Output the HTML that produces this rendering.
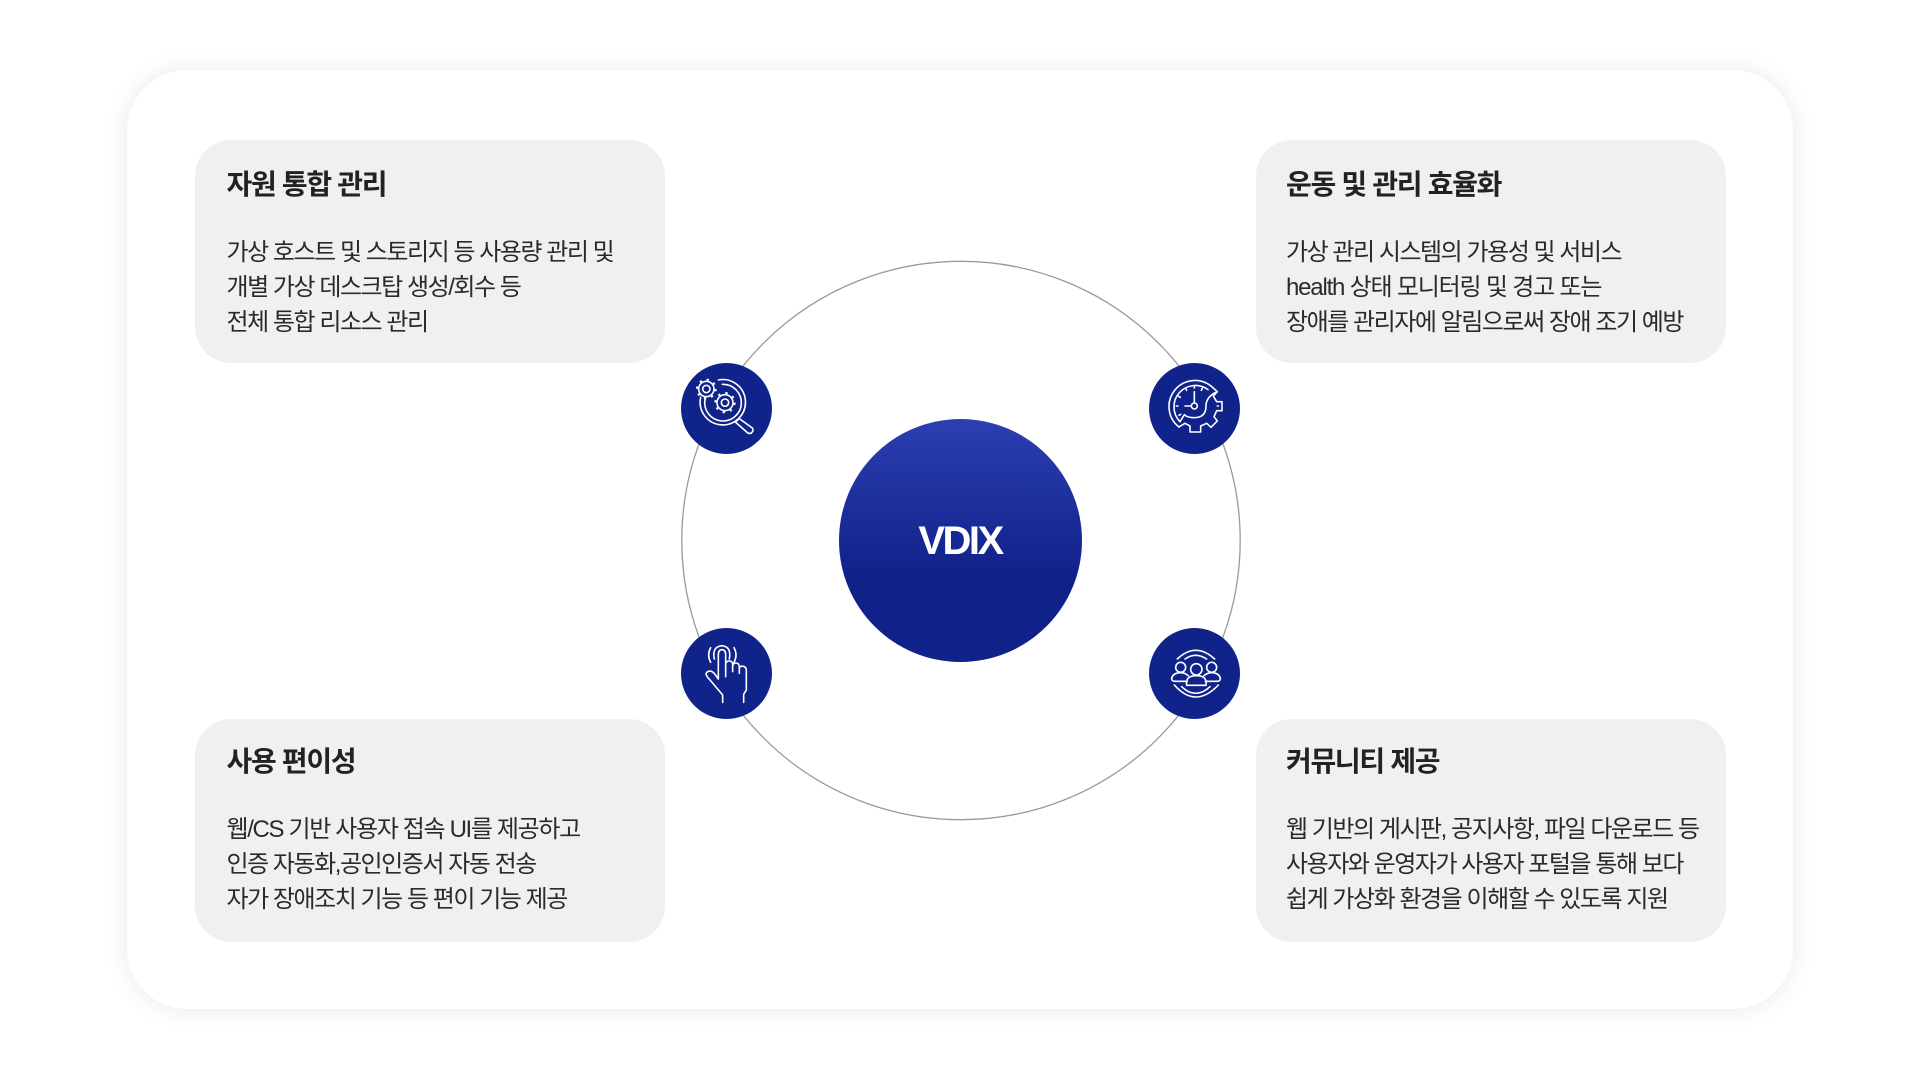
<!DOCTYPE html>
<html lang="ko"><head><meta charset="utf-8"><title>VDIX</title>
<style>
html,body{margin:0;padding:0;background:#fff}
#p{position:relative;width:1920px;height:1080px;overflow:hidden;background:#fff;font-family:"Liberation Sans","Noto Sans CJK KR",sans-serif}
#c{position:absolute;left:127px;top:70px;width:1666px;height:939px;border-radius:60px;background:#fff;box-shadow:0 0 24px rgba(0,0,0,.09)}
.b{position:absolute;width:470px;height:223px;border-radius:36px;background:#f0f0f0}
.t,.l{position:absolute;white-space:nowrap;line-height:40px;height:40px}
.t{font-size:28px;font-weight:700;color:#222;letter-spacing:-1.3px}
.l{font-size:24px;font-weight:400;color:#2a2a2a;letter-spacing:-1.47px}
svg{position:absolute;left:0;top:0}
#v{position:absolute;left:839px;top:511px;width:242px;text-align:center;line-height:60px;color:#fff;font-weight:700;font-size:40px;letter-spacing:-2.5px}
</style></head><body><div id="p"><div id="c"></div>
<div class="b" style="left:195px;top:140px"></div>
<div class="b" style="left:1256px;top:140px"></div>
<div class="b" style="left:195px;top:719px"></div>
<div class="b" style="left:1256px;top:719px"></div>
<svg width="1920" height="1080" viewBox="0 0 1920 1080">
<defs><linearGradient id="g" x1="0" y1="0" x2="0" y2="1"><stop offset="0" stop-color="#2d3fb1"/><stop offset=".65" stop-color="#10218a"/><stop offset="1" stop-color="#10218a"/></linearGradient></defs>
<circle cx="961" cy="540.5" r="279.2" fill="none" stroke="#9a9a9a" stroke-width="1.3"/>
<circle cx="960.5" cy="540.5" r="121.5" fill="url(#g)"/>
<circle cx="726.5" cy="408.5" r="45.5" fill="#10238a"/><circle cx="1194.5" cy="408.5" r="45.5" fill="#10238a"/>
<circle cx="726.5" cy="673.5" r="45.5" fill="#10238a"/><circle cx="1194.5" cy="673.5" r="45.5" fill="#10238a"/>
<g fill="none" stroke="#fff" stroke-width="4.8" stroke-linecap="round" stroke-linejoin="round">
<g transform="translate(660 340) scale(.3333)">
<path d="M175 120A68 68 0 1 1 122 172"/><path d="M187 133A55 55 0 1 1 135 178"/>
<circle cx="139" cy="147" r="23"/><circle cx="139" cy="147" r="11"/><circle cx="139" cy="147" r="28" stroke-width="6" stroke-dasharray="7 15" stroke-linecap="butt"/>
<circle cx="195" cy="188" r="24"/><circle cx="195" cy="188" r="11"/><circle cx="195" cy="188" r="29" stroke-width="6" stroke-dasharray="7 15.8" stroke-linecap="butt"/>
<path d="M226 246L238 236L277 264Q282 272 274 279Q266 283 260 276Z"/>
</g>
<g transform="translate(1130 340) scale(.3333)">
<path d="M243 138A78 78 0 1 0 147 261"/><path d="M234 149A64 64 0 0 0 150 245"/>
<path d="M243 138L262 155Q228 170 228 198Q228 233 193 233Q172 233 163 224L150 245"/>
<path d="M262 155L250 168L260 185L276 185L276 212L260 212L252 230L262 243L243 262L230 250L212 258L212 276L180 276L180 258L165 250L147 261"/>
<path d="M193 155V189M165 198H184M193 138V144M167 145L170 151M146 169L151 172M139 198H144M147 226L152 223M217 145L214 151M262 198H265"/>
<circle cx="193" cy="198" r="9"/>
</g>
<g transform="translate(660 605) scale(.3333)">
<path d="M188 292V270L150 225Q130 205 145 199Q155 195 165 208L175 222V150Q175 134 186 134Q197 134 197 150V215"/>
<path d="M197 180Q197 168 208 168Q218 168 218 180V200M218 185Q218 174 228 174Q238 174 238 187V205M238 190Q240 182 250 184Q259 186 259 196V255L251 268V292"/>
<path d="M163 162Q155 125 186 122Q215 125 208 162"/>
<path d="M152 172Q140 150 152 128M222 128Q234 150 222 172"/>
</g>
<g transform="translate(1130 605) scale(.3333)">
<circle cx="152" cy="187" r="15"/><circle cx="245" cy="187" r="15"/><circle cx="199" cy="193" r="17"/>
<path d="M170 241Q165 212 199 212Q233 212 228 241Z"/>
<path d="M172 229H135Q124 229 125 219Q130 203 152 203Q165 203 175 212M226 229H260Q272 229 271 219Q266 203 245 203Q232 203 222 212"/>
<path d="M142 162Q197 110 254 162M165 162Q197 140 230 162M133 240Q197 312 265 240M155 245Q197 285 240 245"/>
</g>
</g></svg>
<div id="v">VDIX</div>
<div class="t" style="left:226.5px;top:165px">자원 통합 관리</div>
<div class="l" style="left:226.5px;top:233px">가상 호스트 및 스토리지 등 사용량 관리 및</div>
<div class="l" style="left:226.5px;top:268px">개별 가상 데스크탑 생성/회수 등</div>
<div class="l" style="left:226.5px;top:302.5px">전체 통합 리소스 관리</div>
<div class="t" style="left:1286px;top:165px">운동 및 관리 효율화</div>
<div class="l" style="left:1286px;top:233px">가상 관리 시스템의 가용성 및 서비스</div>
<div class="l" style="left:1286px;top:268px;letter-spacing:-1.2px">health 상태 모니터링 및 경고 또는</div>
<div class="l" style="left:1286px;top:302.5px">장애를 관리자에 알림으로써 장애 조기 예방</div>
<div class="t" style="left:226.5px;top:742px">사용 편이성</div>
<div class="l" style="left:226.5px;top:810px;letter-spacing:-1.35px">웹/CS 기반 사용자 접속 UI를 제공하고</div>
<div class="l" style="left:226.5px;top:845px">인증 자동화,공인인증서 자동 전송</div>
<div class="l" style="left:226.5px;top:880px">자가 장애조치 기능 등 편이 기능 제공</div>
<div class="t" style="left:1286px;top:742px">커뮤니티 제공</div>
<div class="l" style="left:1286px;top:810px">웹 기반의 게시판, 공지사항, 파일 다운로드 등</div>
<div class="l" style="left:1286px;top:845px">사용자와 운영자가 사용자 포털을 통해 보다</div>
<div class="l" style="left:1286px;top:880px">쉽게 가상화 환경을 이해할 수 있도록 지원</div>
</div></body></html>
